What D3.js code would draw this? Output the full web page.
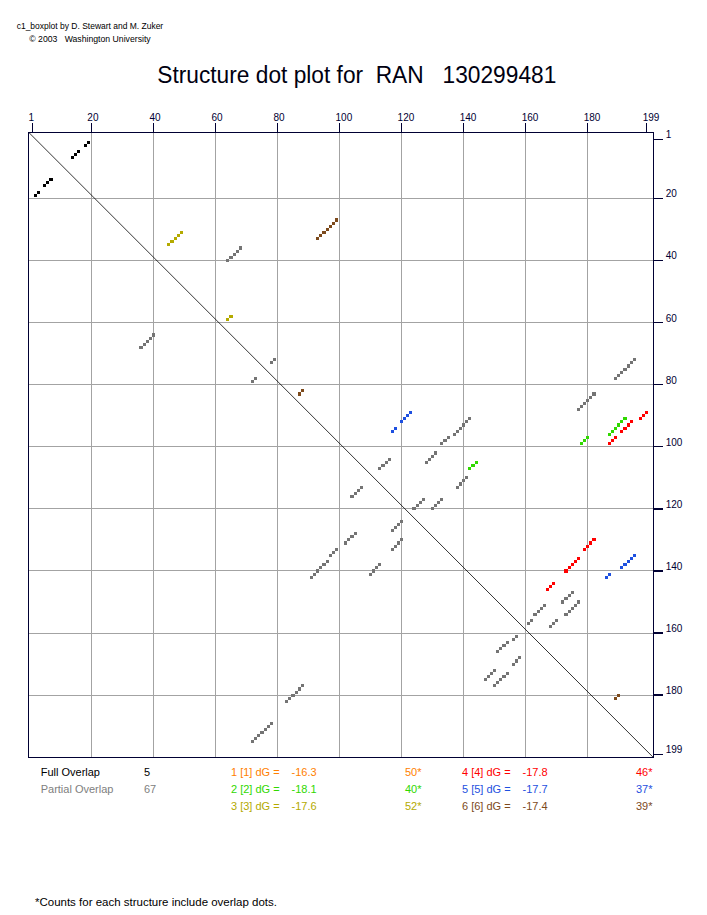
<!DOCTYPE html>
<html>
<head>
<meta charset="utf-8">
<script src="https://cdn.jsdelivr.net/npm/d3@7"></script>
<style>
  body { margin: 0; background: #fff; }
  text { font-family: "Liberation Sans", Arial, Helvetica, sans-serif; white-space: pre; }
</style>
</head>
<body>
<div id="chart"></div>
<script>
// ---- data: [i, j] base pairs (i < j) ----
const axisTicks = [1, 20, 40, 60, 80, 100, 120, 140, 160, 180, 199];
const gridTicks = [20, 40, 60, 80, 100, 120, 140, 160, 180];

const fullOverlap = [[2,19],[3,18],[5,16],[6,15],[7,14]];

const partialOverlap = [
  [36,68],[37,67],[38,66],[39,65],[40,64],
  [72,79],[73,78],
  [72,195],[73,194],[74,193],[75,192],[76,191],[77,190],[78,189],
  [83,182],[84,181],[85,180],[86,179],[87,178],[88,177],
  [91,142],[92,141],[93,140],[94,139],[95,138],[96,137],
  [97,135],[98,134],[99,133],
  [102,131],[103,130],[104,129],[105,128],
  [104,116],[105,115],[106,114],[107,113],
  [110,141],[111,140],[112,139],[113,138],
  [117,127],[118,126],[119,125],[120,124],
  [117,133],[118,132],[119,131],[120,130],
  [147,175],[148,174],[149,173],[150,172],
  [150,177],[151,176],[152,175],[153,174],[154,173],
  [151,166],[152,165],[153,164],[154,163],[156,162],[157,161],
  [156,170],[157,169],[158,168]
];

const struct1 = [];
const struct2 = [[91,192],[92,191],[93,190],[94,189],[95,188],[96,187],
  [97,180],[98,179],[99,178],[105,144],[106,143],[107,142]];
const struct3 = [[31,49],[32,48],[33,47],[34,46],[35,45],[58,65],[59,64]];
const struct4 = [[89,199],[90,198],[91,197],[92,194],[93,193],[94,192],[95,191],
  [97,189],[98,188],[99,187],[130,182],[131,181],[132,180],[133,179],
  [136,177],[137,176],[138,175],[139,174],[140,173],[144,169],[145,168],[146,167]];
const struct5 = [[89,123],[90,122],[91,121],[92,120],[94,118],[95,117],
  [135,195],[136,194],[137,193],[138,192],[139,191],[141,187],[142,186]];
const struct6 = [[27,99],[28,98],[29,97],[30,96],[31,95],[32,94],[33,93],
  [82,88],[83,87],[180,190],[181,189]];

const structLabels = ["1 [1] dG =", "2 [2] dG =", "3 [3] dG =", "4 [4] dG =", "5 [5] dG =", "6 [6] dG ="];
const structEnergy = ["-16.3", "-18.1", "-17.6", "-17.8", "-17.7", "-17.4"];
const structCounts = [50, 40, 52, 46, 37, 39];
const overlapLabels = ["Full Overlap", "Partial Overlap"];
const overlapCounts = [5, 67];

const structColors = ["#ff8000", "#30d800", "#b4aa00", "#ff0000", "#1e50e0", "#7d4a1c"];
const grayColor = "#747474";
const navy = "#000033";

const W = 707, H = 915;

const svg = d3.select("#chart").append("svg")
    .attr("width", W)
    .attr("height", H)
    .style("background", "#fff");

const x = d3.scaleLinear().domain([1, 199]).range([32.4, 646.7]);
const y = d3.scaleLinear().domain([1, 199]).range([139.3, 754.2]);

const fLeft = x(-0.2), fRight = x(201.1), fTop = y(-1.25), fBottom = y(200);

// header
svg.append("text").attr("x", 16.7).attr("y", 29).attr("font-size", 9)
    .attr("textLength", 146.5).attr("lengthAdjust", "spacingAndGlyphs")
    .text("c1_boxplot by D. Stewart and M. Zuker");
svg.append("text").attr("x", 29.3).attr("y", 41.7).attr("font-size", 9)
    .attr("textLength", 121.4).attr("lengthAdjust", "spacingAndGlyphs")
    .text("\u00a9 2003   Washington University");

svg.append("text").attr("x", 157.3).attr("y", 83.3).attr("font-size", 23)
    .attr("fill", "#000010")
    .attr("textLength", 399).attr("lengthAdjust", "spacingAndGlyphs")
    .text("Structure dot plot for  RAN   130299481");

// grid
const grid = svg.append("g").attr("shape-rendering", "crispEdges")
    .attr("stroke", "#a3a3a3").attr("stroke-width", 1);
grid.selectAll(".vg").data(gridTicks).enter().append("line")
    .attr("x1", d => x(d)).attr("x2", d => x(d))
    .attr("y1", fTop).attr("y2", fBottom);
grid.selectAll(".hg").data(gridTicks).enter().append("line")
    .attr("y1", d => y(d)).attr("y2", d => y(d))
    .attr("x1", fLeft).attr("x2", fRight);

// diagonal
svg.append("line")
    .attr("x1", fLeft).attr("y1", fTop).attr("x2", fRight).attr("y2", fBottom)
    .attr("stroke", "#000").attr("stroke-width", 0.8);

// dots
const s = 3.1;
function drawDots(pairs, color, mirror) {
    const g = svg.append("g").attr("shape-rendering", "crispEdges").attr("fill", color);
    g.selectAll(".u").data(pairs).enter().append("rect")
        .attr("x", d => x(d[1]) - s / 2).attr("y", d => y(d[0]) - s / 2)
        .attr("width", s).attr("height", s);
    if (mirror) {
        g.selectAll(".l").data(pairs).enter().append("rect")
            .attr("x", d => x(d[0]) - s / 2).attr("y", d => y(d[1]) - s / 2)
            .attr("width", s).attr("height", s);
    }
}
drawDots(partialOverlap, grayColor, true);
drawDots(fullOverlap, "#000", true);
[struct1, struct2, struct3, struct4, struct5, struct6]
    .forEach((st, k) => drawDots(st, structColors[k], false));

// frame + ticks
const ax = svg.append("g").attr("shape-rendering", "crispEdges")
    .attr("stroke", navy).attr("stroke-width", 1.4);
ax.append("rect").attr("x", fLeft).attr("y", fTop)
    .attr("width", fRight - fLeft).attr("height", fBottom - fTop).attr("fill", "none");
ax.selectAll(".tt").data(axisTicks).enter().append("line")
    .attr("x1", d => x(d)).attr("x2", d => x(d))
    .attr("y1", fTop).attr("y2", fTop - 9);
ax.selectAll(".rt").data(axisTicks).enter().append("line")
    .attr("y1", d => y(d)).attr("y2", d => y(d))
    .attr("x1", fRight).attr("x2", fRight + 9.4);

svg.selectAll(".tl").data(axisTicks).enter().append("text")
    .attr("x", d => x(d) - 4).attr("y", 120.7)
    .attr("font-size", 10).attr("fill", navy)
    .text(d => d);
svg.selectAll(".rl").data(axisTicks).enter().append("text")
    .attr("x", 665.7).attr("y", d => y(d) - 1)
    .attr("font-size", 10).attr("fill", navy)
    .text(d => d);

// legend
const rowY = [776.3, 792.9, 809.5];
const leg = svg.append("g").attr("font-size", 11);
overlapLabels.forEach((lab, k) => {
    const c = k === 0 ? "#000" : "#808080";
    leg.append("text").attr("x", 40.7).attr("y", rowY[k]).attr("fill", c).text(lab);
    leg.append("text").attr("x", 144).attr("y", rowY[k]).attr("fill", c).text(overlapCounts[k]);
});
structLabels.forEach((lab, k) => {
    const col = k < 3 ? 0 : 1;
    const x0 = col === 0 ? 231 : 462;
    const xc = col === 0 ? 405 : 636;
    const yy = rowY[k % 3];
    leg.append("text").attr("x", x0).attr("y", yy).attr("fill", structColors[k]).text(lab);
    leg.append("text").attr("x", x0 + 60.5).attr("y", yy).attr("fill", structColors[k]).text(structEnergy[k]);
    leg.append("text").attr("x", xc).attr("y", yy).attr("fill", structColors[k]).text(structCounts[k] + "*");
});

svg.append("text").attr("x", 35).attr("y", 906).attr("font-size", 10)
    .attr("textLength", 242).attr("lengthAdjust", "spacingAndGlyphs")
    .text("*Counts for each structure include overlap dots.");
</script>
</body>
</html>
